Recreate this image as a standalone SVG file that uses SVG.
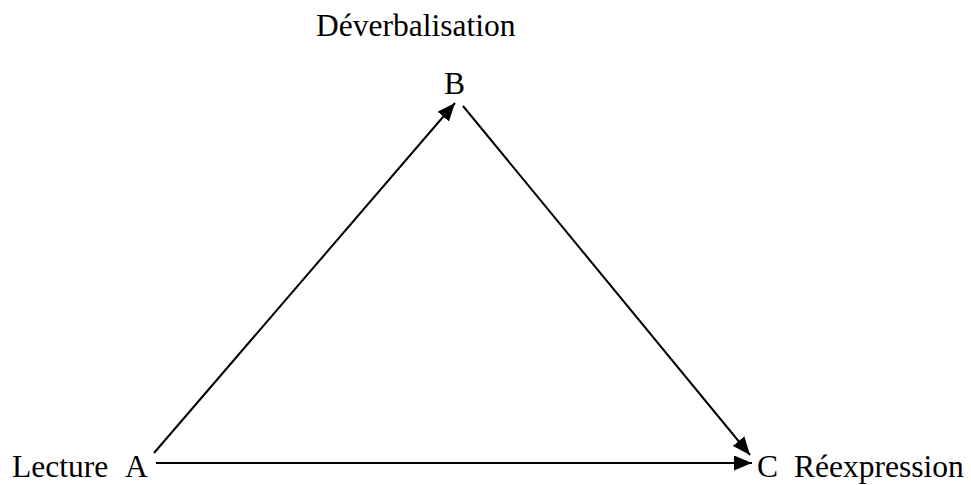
<svg xmlns="http://www.w3.org/2000/svg" width="971" height="485" viewBox="0 0 971 485">
<style>
text { font-family: "Liberation Serif", "Times New Roman", serif; font-size: 31.5px; fill: #000; }
.edge { stroke: #000; stroke-width: 2; fill: none; marker-end: url(#arr); }
</style>
<defs>
<marker id="arr" markerUnits="userSpaceOnUse" markerWidth="19" markerHeight="15" refX="18" refY="7.5" orient="auto">
<path d="M0,0 L18,7.5 L0,15 Z" fill="#000"/>
</marker>
</defs>
<rect width="971" height="485" fill="#fff"/>
<g id="title"><text x="316" y="36">Déverbalisation</text></g>
<g id="nodeB"><text x="444" y="94">B</text></g>
<g id="nodeA"><text x="12" y="477">Lecture</text><text x="125" y="477">A</text></g>
<g id="nodeC"><text x="757" y="477">C</text><text x="794" y="477">Réexpression</text></g>
<g id="connectors">
<line class="edge" x1="154" y1="453" x2="455" y2="103"/>
<line x1="463" y1="106" x2="750" y2="455" class="edge"/>
<line class="edge" x1="156" y1="463" x2="752" y2="463"/>
</g>
</svg>
